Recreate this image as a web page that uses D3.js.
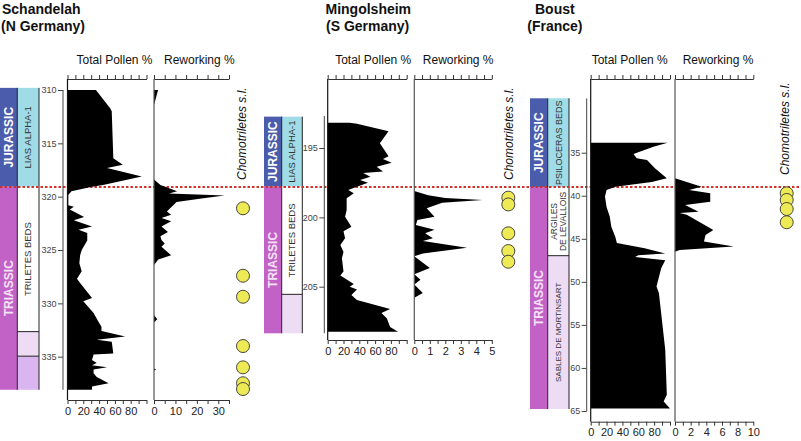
<!DOCTYPE html>
<html>
<head>
<meta charset="utf-8">
<script src="https://cdn.jsdelivr.net/npm/d3@7"></script>
<style>
  body { margin: 0; background: #fff; }
  svg { display: block; font-family: "Liberation Sans", Arial, Helvetica, sans-serif; }
</style>
</head>
<body>
<div id="chart"></div>
<script>
// ---------------- data ----------------
const taxonLabel = "Chomotriletes s.l.";
const pollenLabel = "Total Pollen %";
const reworkLabel = "Reworking %";
const pollenMinor = d3.range(0, 101, 10);
const pollenTickLabels = [0, 20, 40, 60, 80];

// Schandelah (N Germany) -- [depth m, value]
const schDepthTicks = [310, 315, 320, 325, 330, 335];
const schReworkTickLabels = [0, 10, 20, 30];
const schPeriods = [["JURASSIC", 309.8, 319.06], ["TRIASSIC", 319.06, 338.1]];
const schUnits = [["LIAS ALPHA-1", 309.8, 319.06, "lias"], ["TRILETES BEDS", 319.06, 332.65, "plain"],
  ["", 332.65, 334.95, "lilac"], ["", 334.95, 338.1, "lilac2"]];
const schPollen = [[310, 36], [311.7, 54], [312, 56], [316.4, 58], [317, 70], [317.3, 50], [318.1, 94],
  [318.9, 45], [319.06, 31], [319.5, 5], [319.85, 1], [320.8, 1], [320.95, 8], [321.2, 3], [321.9, 21],
  [322.2, 8], [322.8, 31], [323.1, 14], [323.4, 25], [324.1, 25], [325, 18], [325.5, 16], [326.25, 15],
  [327, 18], [327.7, 12], [328.1, 16], [329.5, 31], [329.8, 20], [330.9, 33], [331.7, 39], [332.2, 43],
  [332.6, 43], [333.1, 73], [333.4, 37], [333.6, 56], [334.7, 58], [334.8, 33], [335.3, 31], [335.6, 37],
  [335.8, 31], [336, 50], [336.2, 33], [336.55, 33], [336.9, 37], [337.5, 52], [337.8, 31], [338.1, 31]];
const schRework = [[310, 1.9], [311.4, 0], [318.4, 0], [318.9, 3], [319.5, 10.8], [319.7, 7], [319.9, 33],
  [320.15, 23], [320.5, 10.5], [320.8, 9], [321.1, 7.4], [321.4, 6], [321.7, 8], [322, 3.5], [322.3, 8],
  [322.8, 3.5], [323.3, 6.5], [323.7, 3], [324.06, 3.5], [324.4, 5], [324.7, 3.5], [325.5, 8], [325.9, 2],
  [326.4, 0], [331.1, 0], [331.5, 1.5], [331.8, 0], [336.1, 0], [336.2, 1], [336.3, 0], [338.1, 0]];
const schChomo = [321.09, 327.41, 329.38, 334.0, 336.0, 337.49, 338.03];

// Mingolsheim (S Germany)
const mingDepthTicks = [195, 200, 205];
const mingReworkTickLabels = [0, 1, 2, 3, 4, 5];
const mingPeriods = [["JURASSIC", 192.74, 197.78], ["TRIASSIC", 197.78, 208.36]];
const mingUnits = [["LIAS ALPHA-1", 192.74, 197.78, "lias"], ["TRILETES BEDS", 197.78, 205.55, "plain"],
  ["", 205.55, 208.36, "lilac"]];
const mingPollen = [[193.18, 28], [193.25, 37], [193.8, 77], [194.66, 66], [195.6, 77], [195.8, 70],
  [196.06, 81], [196.35, 62], [196.7, 70], [196.8, 45], [197.07, 54], [197.3, 41], [197.5, 51], [197.8, 37],
  [198.03, 26], [198.27, 33], [198.63, 24], [199.47, 24], [199.95, 22], [200.67, 30], [201, 20], [201.5, 22],
  [202, 16], [202.5, 20], [202.95, 18], [203.9, 20], [204.2, 16], [204.8, 33], [205, 28], [205.2, 37],
  [205.6, 30], [205.96, 37], [206.6, 79], [206.9, 68], [207.3, 75], [207.9, 79], [208.25, 89]];
const mingRework = [[198.1, 0], [198.4, 0.9], [198.6, 2.0], [198.75, 4.4], [198.95, 1.8], [199.35, 0.8],
  [199.95, 1.3], [200.2, 0.2], [200.55, 0.1], [200.9, 1.3], [201.15, 0.7], [201.5, 1.2], [201.7, 0.55],
  [202.2, 3.4], [202.6, 0.55], [202.8, 0], [203.65, 1.0], [204.1, 0], [204.5, 0.4], [204.85, 0],
  [205.45, 0.55], [205.8, 0]];
const mingChomo = [198.58, 199.07, 201.15, 202.43, 203.2];

// Boust (France)
const boustDepthTicks = [35, 40, 45, 50, 55, 60, 65];
const boustReworkTickLabels = [0, 2, 4, 6, 8, 10];
const boustPeriods = [["JURASSIC", 28.68, 39.0], ["TRIASSIC", 39.0, 64.77]];
const boustUnits = [["PSILOCERAS BEDS", 28.68, 39.0, "lias"], ["ARGILES|DE LEVALLOIS", 39.0, 46.96, "plain"],
  ["SABLES DE MORTINSART", 46.96, 64.77, "lilac"]];
const boustPollen = [[33.84, 97], [34.3, 79], [35.15, 54], [35.65, 58], [35.85, 71], [36.8, 81], [37.97, 96],
  [38.4, 77], [38.95, 31], [39.33, 20], [40.1, 18], [41.3, 20], [42.4, 24], [43.6, 26], [44.75, 31],
  [45.5, 33], [46.1, 68], [46.7, 94], [46.9, 60], [47.1, 56], [47.5, 94], [48.4, 89], [50.55, 83],
  [51.3, 86], [57.9, 94], [63.1, 96], [63.9, 92], [64.7, 100]];
const boustRework = [[37.97, 0], [38.95, 3.4], [39.33, 1.8], [39.7, 4.5], [40.7, 4.5], [41.07, 1.3],
  [41.85, 3.0], [42.0, 0.6], [42.2, 1.5], [43.97, 4.9], [44.55, 3.9], [45.3, 3.7], [45.9, 7.5],
  [46.3, 0.6], [46.5, 0]];
const boustChomo = [39.72, 40.49, 41.54, 43.08];

// ---------------- layout ----------------
const width = 801, height = 441;
const topAxisY = 79;
const boundaryY = 187;

const colors = {
  JURASSIC: "#4a5cab", TRIASSIC: "#c262c7",
  lias: "#9fdce7", plain: "#ffffff", lilac: "#eedcf5", lilac2: "#d9b6ef"
};

const sites = [
  { name: "Schandelah", region: "(N Germany)", titleX: [2, 1],
    periods: schPeriods, units: schUnits, pollen: schPollen, rework: schRework, chomo: schChomo,
    depthTicks: schDepthTicks, depthDomain: [310, 335], depthRange: [90, 356.7], axisExtent: [310, 338.1],
    stratX: 0, periodW: 17.3, unitW: 21.7, depthAxisX: 63,
    pollenX: 67.5, pollenW: 79, reworkX: 154, reworkW: 75, reworkMax: 35, reworkStep: 5,
    reworkTickLabels: schReworkTickLabels, bottomY: 400,
    pollenLabelDx: 9, reworkLabelDx: 10, chomoX: 243, taxonX: 246, taxonY: 180 },
  { name: "Mingolsheim", region: "(S Germany)", titleX: [325.5, 326],
    periods: mingPeriods, units: mingUnits, pollen: mingPollen, rework: mingRework, chomo: mingChomo,
    depthTicks: mingDepthTicks, depthDomain: [195, 205], depthRange: [148, 286.7], axisExtent: [192.7, 208.35],
    stratX: 264, periodW: 17.7, unitW: 20.6, depthAxisX: 324.3,
    pollenX: 327.7, pollenW: 79, reworkX: 414.3, reworkW: 77.5, reworkMax: 5, reworkStep: 0.5,
    reworkTickLabels: mingReworkTickLabels, bottomY: 340,
    pollenLabelDx: 7.5, reworkLabelDx: 8.5, chomoX: 508.3, taxonX: 512.5, taxonY: 180 },
  { name: "Boust", region: "(France)", titleX: [535, 527.3],
    periods: boustPeriods, units: boustUnits, pollen: boustPollen, rework: boustRework, chomo: boustChomo,
    depthTicks: boustDepthTicks, depthDomain: [35, 65], depthRange: [152.7, 411], axisExtent: [28.7, 65],
    stratX: 530, periodW: 17.7, unitW: 21.3, depthAxisX: 586.7,
    pollenX: 590.7, pollenW: 79.3, reworkX: 675, reworkW: 78.3, reworkMax: 10, reworkStep: 1,
    reworkTickLabels: boustReworkTickLabels, bottomY: 421.7,
    pollenLabelDx: 1, reworkLabelDx: 7.7, chomoX: 786.7, taxonX: 788.5, taxonY: 175 }
];

const unitFont = { "SABLES DE MORTINSART": 8, "PSILOCERAS BEDS": 9, "ARGILES|DE LEVALLOIS": 8.5 };

// ---------------- drawing ----------------
const svg = d3.select("#chart").append("svg")
  .attr("width", width).attr("height", height);

const stratLayer = svg.append("g");
const redLayer = svg.append("g");
const plotLayer = svg.append("g");

function rotatedLabel(g, lines, cx, cy, size, weight, fill) {
  const t = g.append("text")
    .attr("transform", `translate(${cx},${cy}) rotate(-90)`)
    .attr("text-anchor", "middle")
    .attr("font-size", size)
    .attr("font-weight", weight)
    .attr("fill", fill);
  const lh = size * 1.05;
  lines.forEach((ln, i) => {
    t.append("tspan").attr("x", 0)
      .attr("y", (i - (lines.length - 1) / 2) * lh)
      .attr("dy", "0.35em").text(ln);
  });
}

sites.forEach(site => {
  const y = d3.scaleLinear().domain(site.depthDomain).range(site.depthRange);
  const xp = d3.scaleLinear().domain([0, 100]).range([site.pollenX, site.pollenX + site.pollenW]);
  const xr = d3.scaleLinear().domain([0, site.reworkMax]).range([site.reworkX, site.reworkX + site.reworkW]);

  // titles
  svg.append("text").attr("x", site.titleX[0]).attr("y", 14)
    .attr("font-size", 14).attr("font-weight", "bold").attr("fill", "#111").text(site.name);
  svg.append("text").attr("x", site.titleX[1]).attr("y", 31)
    .attr("font-size", 14).attr("font-weight", "bold").attr("fill", "#111").text(site.region);

  // stratigraphic columns
  const sg = stratLayer.append("g");
  site.periods.forEach(p => {
    sg.append("rect").attr("x", site.stratX).attr("y", y(p[1]))
      .attr("width", site.periodW).attr("height", y(p[2]) - y(p[1]))
      .attr("fill", colors[p[0]]);
  });
  site.units.forEach(u => {
    sg.append("rect").attr("x", site.stratX + site.periodW).attr("y", y(u[1]))
      .attr("width", site.unitW).attr("height", y(u[2]) - y(u[1]))
      .attr("fill", colors[u[3]]);
  });
  // unit boundaries (horizontal lines below the J/T boundary)
  site.units.slice(2).forEach(u => {
    sg.append("line").attr("x1", site.stratX + site.periodW).attr("x2", site.stratX + site.periodW + site.unitW)
      .attr("y1", y(u[1])).attr("y2", y(u[1])).attr("stroke", "#222").attr("stroke-width", 1);
  });
  const colTop = y(site.periods[0][1]), colBot = y(site.periods[site.periods.length - 1][2]);
  [site.stratX + site.periodW, site.stratX + site.periodW + site.unitW].forEach(xx => {
    sg.append("line").attr("x1", xx).attr("x2", xx).attr("y1", colTop).attr("y2", colBot)
      .attr("stroke", "#222").attr("stroke-width", 1);
  });
  site.periods.forEach(p => {
    rotatedLabel(sg, [p[0]], site.stratX + site.periodW / 2, (y(p[1]) + y(p[2])) / 2, 12, "bold",
      p[0] === "JURASSIC" ? "#ffffff" : "#f6e2f7");
  });
  site.units.forEach(u => {
    if (!u[0]) return;
    rotatedLabel(sg, u[0].split("|"), site.stratX + site.periodW + site.unitW / 2,
      (y(u[1]) + y(u[2])) / 2, unitFont[u[0]] || 9.5, "normal", "#333");
  });

  // depth axis
  const dg = plotLayer.append("g").attr("transform", `translate(${site.depthAxisX},0)`);
  dg.call(d3.axisLeft(y).tickValues(site.depthTicks).tickSize(5).tickPadding(1.5).tickSizeOuter(0))
    .call(g => g.select(".domain").remove())
    .attr("font-family", null).attr("font-size", 9);
  dg.selectAll(".tick line").attr("stroke", "#444");
  dg.selectAll(".tick text").attr("fill", "#444");
  dg.append("line").attr("x1", 0).attr("x2", 0)
    .attr("y1", y(site.axisExtent[0])).attr("y2", y(site.axisExtent[1]))
    .attr("stroke", "#444").attr("stroke-width", 1);

  // curves
  const pollenArea = d3.area().x0(xp(0)).x1(d => xp(d[1])).y(d => y(d[0]));
  const reworkArea = d3.area().x0(xr(0)).x1(d => xr(d[1])).y(d => y(d[0]));
  plotLayer.append("path").datum(site.pollen).attr("d", pollenArea).attr("fill", "#000");
  plotLayer.append("path").datum(site.rework).attr("d", reworkArea).attr("fill", "#000");

  // panel borders and axes
  [[xp, pollenMinor, pollenTickLabels, pollenLabel, site.pollenLabelDx, "#111"],
   [xr, d3.range(0, site.reworkMax + 1e-9, site.reworkStep), site.reworkTickLabels, reworkLabel, site.reworkLabelDx, "#555"]]
  .forEach(([x, minor, labels, title, dx, borderColor]) => {
    plotLayer.append("line").attr("x1", x(0)).attr("x2", x(0))
      .attr("y1", topAxisY).attr("y2", site.bottomY)
      .attr("stroke", borderColor).attr("stroke-width", 1.2);

    const tg = plotLayer.append("g").attr("transform", `translate(0,${topAxisY})`);
    tg.call(d3.axisTop(x).tickValues(minor).tickSize(4).tickFormat("").tickSizeOuter(0));
    tg.selectAll("path,line").attr("stroke", "#333");

    const bg = plotLayer.append("g").attr("transform", `translate(0,${site.bottomY})`);
    bg.call(d3.axisBottom(x).tickValues(minor).tickSize(4).tickPadding(3).tickSizeOuter(0)
      .tickFormat(d => labels.some(l => Math.abs(l - d) < 1e-6) ? d3.format("d")(d) : ""))
      .attr("font-family", null).attr("font-size", 11);
    bg.selectAll("path,line").attr("stroke", "#333");
    bg.selectAll(".tick text").attr("fill", "#222");

    plotLayer.append("text").attr("x", x(0) + dx).attr("y", 64)
      .attr("font-size", 12).attr("fill", "#111").text(title);
  });

  // Chomotriletes occurrences
  plotLayer.append("text")
    .attr("transform", `translate(${site.taxonX},${site.taxonY}) rotate(-90)`)
    .attr("font-size", 12).attr("font-style", "italic").attr("fill", "#111")
    .text(taxonLabel);
  plotLayer.append("g").selectAll("circle").data(site.chomo).join("circle")
    .attr("cx", site.chomoX).attr("cy", d => y(d)).attr("r", 6.5)
    .attr("fill", "#eeea55").attr("stroke", "#333").attr("stroke-width", 0.9);
});

// Triassic/Jurassic boundary
redLayer.append("line").attr("x1", 0).attr("x2", width)
  .attr("y1", boundaryY).attr("y2", boundaryY)
  .attr("stroke", "#d2322c").attr("stroke-width", 2).attr("stroke-dasharray", "2.5,2");
</script>
</body>
</html>
